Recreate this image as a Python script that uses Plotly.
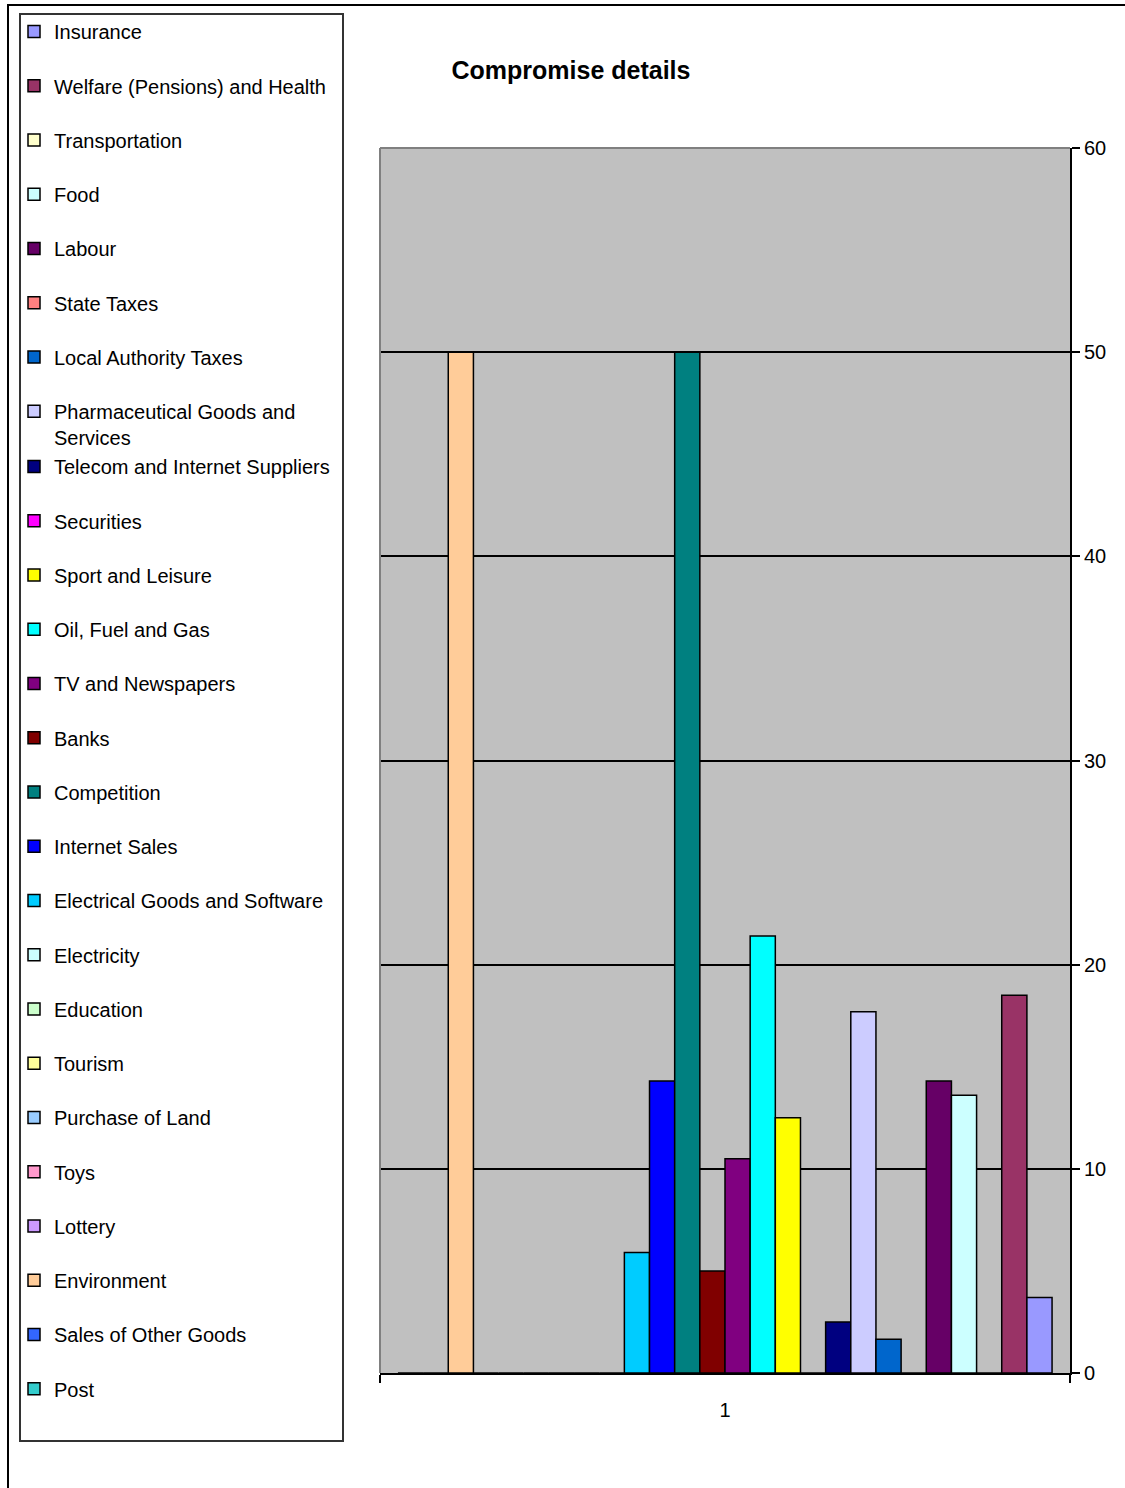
import plotly.graph_objects as go

# Series in plotting order (left to right); legend shows them reversed
series_names = [
    "Post", "Sales of Other Goods", "Environment", "Lottery", "Toys",
    "Purchase of Land", "Tourism", "Education", "Electricity",
    "Electrical Goods and Software", "Internet Sales", "Competition", "Banks",
    "TV and Newspapers", "Oil, Fuel and Gas", "Sport and Leisure", "Securities",
    "Telecom and Internet Suppliers", "Pharmaceutical Goods and<br>Services",
    "Local Authority Taxes", "State Taxes", "Labour", "Food", "Transportation",
    "Welfare (Pensions) and Health", "Insurance",
]
series_values = [
    0, 0, 50, 0, 0,
    0, 0, 0, 0,
    5.9, 14.3, 50, 5.0,
    10.5, 21.4, 12.5, 0,
    2.5, 17.7,
    1.65, 0, 14.3, 13.6, 0,
    18.5, 3.7,
]
series_colors = [
    "#33CCCC", "#3366FF", "#FFCC99", "#CC99FF", "#FF99CC",
    "#99CCFF", "#FFFF99", "#CCFFCC", "#CCFFFF",
    "#00CCFF", "#0000FF", "#008080", "#800000",
    "#800080", "#00FFFF", "#FFFF00", "#FF00FF",
    "#000080", "#CCCCFF",
    "#0066CC", "#FF8080", "#660066", "#CCFFFF", "#FFFFCC",
    "#993366", "#9999FF",
]
category = ["1"]
y_ticks = [0, 10, 20, 30, 40, 50, 60]
title_text = "Compromise details"

# geometry (pixels)
W, H = 1125, 1488
PL, PR, PT, PB = 380, 1070, 148, 1373
pw, ph = PR - PL, PB - PT


def px_x(p):
    return (p - PL) / pw


def px_y(p):
    return (PB - p) / ph


FONT = "Liberation Sans, Arial, sans-serif"

fig = go.Figure()
split_index = 18  # first series shown in the upper legend block
n = len(series_names)
for i, (nm, v, c) in enumerate(zip(series_names, series_values, series_colors)):
    fig.add_trace(go.Bar(
        x=category, y=[v], name=nm,
        marker=dict(color=c, line=dict(color="black", width=1.5)),
        legendgroup=f"g{i}",
        legendrank=(n - i) * 10,
        legend="legend" if i >= split_index else "legend2",
        hoverinfo="name+y",
    ))

legend_common = dict(
    xanchor="left", yanchor="top",
    bgcolor="rgba(0,0,0,0)", borderwidth=0,
    font=dict(family=FONT, size=20, color="black"),
    traceorder="grouped", tracegroupgap=25.25, valign="top",
)

fig.update_layout(
    width=W, height=H,
    margin=dict(l=PL, r=W - PR, t=PT, b=H - PB, autoexpand=False),
    paper_bgcolor="white", plot_bgcolor="#C0C0C0",
    barmode="group", bargap=0.052, bargroupgap=0,
    showlegend=True,
    title=dict(text=f"<b>{title_text}</b>", x=571 / W, xref="container",
               xanchor="center", y=1 - 70 / H, yref="container",
               yanchor="middle",
               font=dict(family=FONT, size=25, color="black")),
    legend=dict(x=px_x(14), y=px_y(12), **legend_common),
    legend2=dict(x=px_x(14), y=px_y(447), **legend_common),
    xaxis=dict(type="category", tickson="boundaries", ticks="outside",
               ticklen=8, tickcolor="black", tickwidth=1.5,
               ticklabelstandoff=18,
               showline=True, linecolor="black", linewidth=1.5,
               showgrid=False, zeroline=False,
               tickfont=dict(family=FONT, size=20, color="black")),
    yaxis=dict(side="right", range=[0, 60], tickvals=y_ticks,
               ticks="outside", ticklen=8, tickcolor="black", tickwidth=1.5,
               showline=True, linecolor="black", linewidth=2,
               showgrid=True, gridcolor="black", gridwidth=1.5,
               zeroline=False,
               tickfont=dict(family=FONT, size=20, color="black")),
    shapes=[
        # plot area grey border (top and left)
        dict(type="line", xref="paper", yref="paper", x0=0, x1=1, y0=1, y1=1,
             line=dict(color="#808080", width=2), layer="above"),
        dict(type="line", xref="paper", yref="paper", x0=0, x1=0, y0=0, y1=1,
             line=dict(color="#808080", width=2), layer="above"),
        # legend box
        dict(type="rect", xref="paper", yref="paper",
             x0=px_x(20), x1=px_x(343), y0=px_y(1441), y1=px_y(14),
             line=dict(color="#333333", width=2), fillcolor="rgba(0,0,0,0)"),
        # chart frame
        dict(type="rect", xref="paper", yref="paper",
             x0=px_x(8), x1=px_x(1135), y0=px_y(1500), y1=px_y(5),
             line=dict(color="black", width=2), fillcolor="rgba(0,0,0,0)"),
    ],
)

fig.write_html("out.html")
